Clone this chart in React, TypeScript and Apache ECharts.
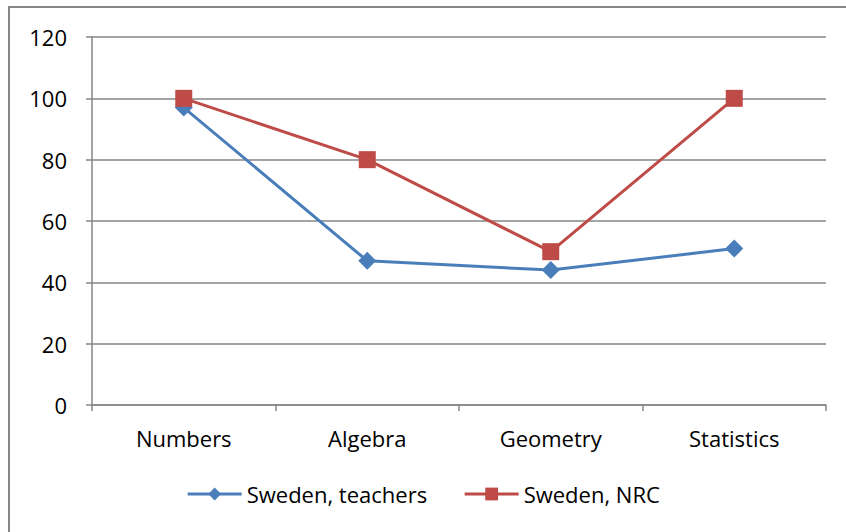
import React, { useEffect, useRef } from "react";
import * as echarts from "echarts";

const categories = ["Numbers", "Algebra", "Geometry", "Statistics"];
const teachers = [97, 47, 44, 51];
const nrc = [100, 80, 50, 100];
const seriesNames = ["Sweden, teachers", "Sweden, NRC"];

const FONT = "'Open Sans', 'Noto Sans', sans-serif";
const GRAY = "#868686";

export default function App() {
  const ref = useRef<HTMLDivElement>(null);
  useEffect(() => {
    if (!ref.current) return;
    const chart = echarts.init(ref.current, null, { renderer: "svg" });
    chart.setOption({
      animation: false,
      backgroundColor: "#ffffff",
      textStyle: { fontFamily: FONT },
      graphic: [
        {
          type: "rect",
          shape: { x: 9, y: 7, width: 900, height: 600 },
          style: { fill: "none", stroke: GRAY, lineWidth: 2 },
          silent: true,
        },
      ],
      grid: { left: 92, right: 20, top: 37, bottom: 127, containLabel: false },
      legend: {
        bottom: 22,
        left: "center",
        itemWidth: 54,
        itemHeight: 16,
        itemGap: 36,
        lineStyle: { width: 3 },
        textStyle: { fontSize: 22, color: "#000", fontFamily: FONT },
        data: seriesNames,
      },
      xAxis: {
        type: "category",
        data: categories,
        boundaryGap: true,
        axisLine: { lineStyle: { color: GRAY, width: 1.5 } },
        axisTick: { show: true, length: 6, lineStyle: { color: GRAY, width: 1.5 } },
        axisLabel: { fontSize: 22, color: "#000", margin: 22, fontFamily: FONT },
        splitLine: { show: false },
      },
      yAxis: {
        type: "value",
        min: 0,
        max: 120,
        interval: 20,
        axisLine: { show: true, lineStyle: { color: GRAY, width: 1.5 } },
        axisTick: { show: true, length: 6, lineStyle: { color: GRAY, width: 1.5 } },
        axisLabel: { fontSize: 22, color: "#000", margin: 25, fontFamily: FONT },
        splitLine: { show: true, lineStyle: { color: GRAY, width: 1.5 } },
      },
      series: [
        {
          name: seriesNames[0],
          type: "line",
          data: teachers,
          symbol: "diamond",
          symbolSize: 18,
          lineStyle: { color: "#4A7EBB", width: 3 },
          itemStyle: { color: "#4A7EBB" },
          z: 2,
        },
        {
          name: seriesNames[1],
          type: "line",
          data: nrc,
          symbol: "rect",
          symbolSize: 17,
          lineStyle: { color: "#BE4B48", width: 3 },
          itemStyle: { color: "#BE4B48" },
          z: 3,
        },
      ],
    });
    return () => chart.dispose();
  }, []);
  return <div ref={ref} style={{ width: 846, height: 532, position: "absolute", left: 0, top: 0 }} />;
}
